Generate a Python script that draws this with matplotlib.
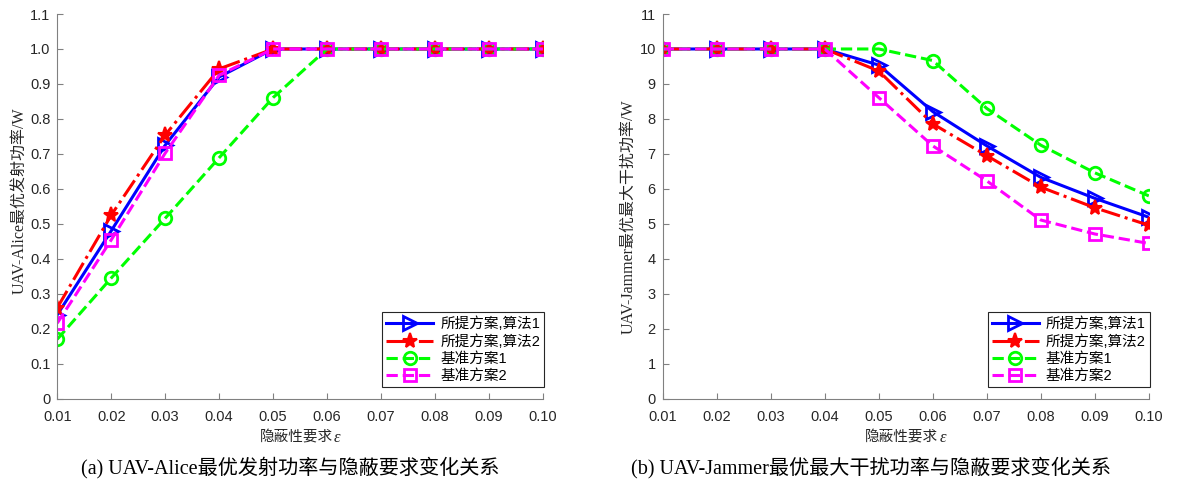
import matplotlib
matplotlib.use('Agg')
import matplotlib.pyplot as plt
from matplotlib.offsetbox import TextArea, HPacker, AnchoredOffsetbox

plt.rcParams['font.family'] = ['Liberation Sans', 'Noto Sans CJK SC']
SERIF = ['Liberation Serif', 'Noto Sans CJK SC']

# data
eps = [0.01, 0.02, 0.03, 0.04, 0.05, 0.06, 0.07, 0.08, 0.09, 0.10]
eps_labels = ['0.01', '0.02', '0.03', '0.04', '0.05', '0.06', '0.07', '0.08', '0.09', '0.10']
names = ['所提方案,算法1', '所提方案,算法2', '基准方案1', '基准方案2']

# (a) Alice transmit power
alice_alg1 = [0.24, 0.48, 0.725, 0.92, 1.0, 1.0, 1.0, 1.0, 1.0, 1.0]
alice_alg2 = [0.26, 0.525, 0.754, 0.943, 1.0, 1.0, 1.0, 1.0, 1.0, 1.0]
alice_base1 = [0.17, 0.345, 0.516, 0.689, 0.861, 1.0, 1.0, 1.0, 1.0, 1.0]
alice_base2 = [0.216, 0.454, 0.702, 0.925, 1.0, 1.0, 1.0, 1.0, 1.0, 1.0]

# (b) Jammer max jamming power
jam_alg1 = [10, 10, 10, 10, 9.54, 8.21, 7.23, 6.33, 5.73, 5.19]
jam_alg2 = [10, 10, 10, 10, 9.37, 7.86, 6.95, 6.05, 5.46, 4.96]
jam_base1 = [10, 10, 10, 10, 10.0, 9.67, 8.30, 7.25, 6.46, 5.80]
jam_base2 = [10, 10, 10, 10, 8.61, 7.23, 6.23, 5.11, 4.71, 4.44]

styles = [
    dict(color='#0000ff', linestyle='-', marker='>', markersize=10, mfc='none', mew=2),
    dict(color='#ff0000', linestyle='-.', marker='*', markersize=11, mfc='#ff0000', mew=1.5),
    dict(color='#00ff00', linestyle='--', marker='o', markersize=9, mfc='none', mew=2),
    dict(color='#ff00ff', linestyle='--', marker='s', markersize=8, mfc='none', mew=2),
]

fig = plt.figure(figsize=(11.78, 4.83), dpi=100)
ax1 = fig.add_axes([0.0486, 0.1745, 0.4123, 0.7965])
ax2 = fig.add_axes([0.5626, 0.1745, 0.4126, 0.7965])


def draw(ax, series, ylim, yticks, ylabels, ylabel, ylab_xy, caption, cap_x):
    for ys, st, nm in zip(series, styles, names):
        ax.plot(eps, ys, linewidth=2.2, label=nm, **st)
    ax.set_xlim(0.01, 0.10)
    ax.set_ylim(*ylim)
    ax.set_xticks(eps)
    ax.set_xticklabels(eps_labels)
    ax.set_yticks(yticks)
    ax.set_yticklabels(ylabels)
    ax.tick_params(direction='in', length=4, labelsize=10.5, colors='#262626',
                   pad=5)
    ax.tick_params(axis='x', pad=8)
    ax.tick_params(axis='both', color='#808080')
    for s in ['top', 'right']:
        ax.spines[s].set_visible(False)
    for s in ['left', 'bottom']:
        ax.spines[s].set_color('#808080')
    ax.set_ylabel(ylabel, family=SERIF, fontsize=11.5, color='#262626')
    ax.yaxis.set_label_coords(*ylab_xy)

    # x label: Chinese text + italic epsilon
    t1 = TextArea('隐蔽性要求', textprops=dict(family='Noto Sans CJK SC', fontsize=10.5,
                                               color='#262626'))
    t2 = TextArea('ε', textprops=dict(family='Liberation Serif', style='italic',
                                       fontsize=12, color='#262626'))
    box = HPacker(children=[t1, t2], align='baseline', pad=0, sep=1)
    ab = AnchoredOffsetbox(loc='center', child=box, frameon=False,
                           bbox_to_anchor=(0.5, -0.102), bbox_transform=ax.transAxes,
                           pad=0, borderpad=0)
    ax.add_artist(ab)

    fig.text(cap_x, 1 - 468 / 483, caption, ha='center', va='center',
             family=SERIF, fontsize=14.5, color='black')

    leg = ax.legend(loc='lower right', bbox_to_anchor=(1.003, 0.03), borderaxespad=0,
                    fontsize=10.5, handlelength=3.2, fancybox=False, framealpha=1,
                    edgecolor='#262626', borderpad=0.3, labelspacing=0.2,
                    handletextpad=0.5)
    leg.get_frame().set_linewidth(0.8)


draw(ax1, [alice_alg1, alice_alg2, alice_base1, alice_base2], (0, 1.1),
     [i / 10 for i in range(12)],
     ['0', '0.1', '0.2', '0.3', '0.4', '0.5', '0.6', '0.7', '0.8', '0.9', '1.0', '1.1'],
     'UAV-Alice最优发射功率/W', (-0.062, 0.516),
     '(a) UAV-Alice最优发射功率与隐蔽要求变化关系', 290 / 1178)

draw(ax2, [jam_alg1, jam_alg2, jam_base1, jam_base2], (0, 11),
     list(range(12)), [str(i) for i in range(12)],
     'UAV-Jammer最优最大干扰功率/W', (-0.053, 0.473),
     '(b) UAV-Jammer最优最大干扰功率与隐蔽要求变化关系', 871 / 1178)

fig.savefig('out.png', dpi=100)
